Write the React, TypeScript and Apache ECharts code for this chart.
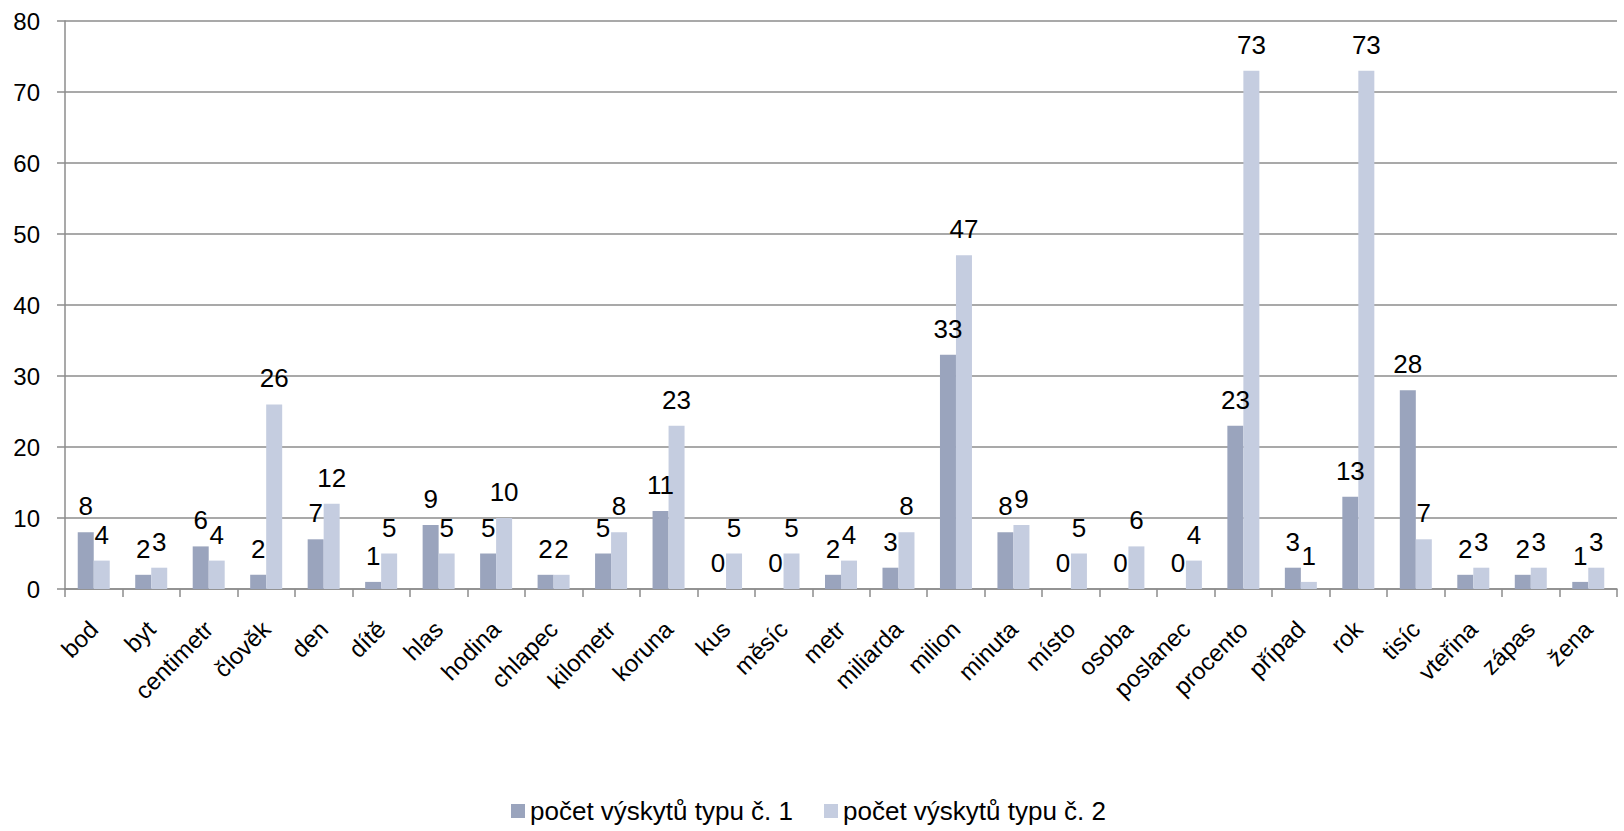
import React, { useEffect, useRef } from "react";
import * as echarts from "echarts";

const categories = [
  "bod", "byt", "centimetr", "člověk", "den", "dítě", "hlas", "hodina", "chlapec",
  "kilometr", "koruna", "kus", "měsíc", "metr", "miliarda", "milion", "minuta",
  "místo", "osoba", "poslanec", "procento", "případ", "rok", "tisíc", "vteřina",
  "zápas", "žena",
];

const seriesNames = ["počet výskytů typu č. 1", "počet výskytů typu č. 2"];

const type1Counts = [8, 2, 6, 2, 7, 1, 9, 5, 2, 5, 11, 0, 0, 2, 3, 33, 8, 0, 0, 0, 23, 3, 13, 28, 2, 2, 1];
const type2Counts = [4, 3, 4, 26, 12, 5, 5, 10, 2, 8, 23, 5, 5, 4, 8, 47, 9, 5, 6, 4, 73, 1, 73, 7, 3, 3, 3];

const yMin = 0;
const yMax = 80;
const yInterval = 10;

const FONT = "'Liberation Sans', Arial, sans-serif";
const GRID_COLOR = "#8c8c8c";
const COLOR1 = "#9aa4bd";
const COLOR2 = "#c5cde0";

export default function App() {
  const ref = useRef<HTMLDivElement | null>(null);

  useEffect(() => {
    if (!ref.current) return;
    const chart = echarts.init(ref.current, null, { renderer: "svg" });
    const labelCfg = {
      show: true,
      position: "top" as const,
      distance: 13,
      fontSize: 26,
      color: "#000",
      fontFamily: FONT,
    };
    chart.setOption({
      animation: false,
      backgroundColor: "#ffffff",
      textStyle: { fontFamily: FONT },
      grid: { left: 65, right: 7, top: 21, bottom: 242, containLabel: false },
      legend: {
        data: seriesNames,
        left: 506,
        top: 793,
        itemWidth: 14,
        itemHeight: 14,
        itemGap: 31,
        icon: "rect",
        textStyle: { fontSize: 26, color: "#000", fontFamily: FONT },
      },
      xAxis: {
        type: "category",
        data: categories,
        boundaryGap: true,
        axisLine: { show: true, lineStyle: { color: GRID_COLOR, width: 1.5 } },
        axisTick: { show: true, length: 8, interval: 0, lineStyle: { color: GRID_COLOR, width: 1.5 } },
        axisLabel: {
          interval: 0,
          rotate: 45,
          margin: 36,
          fontSize: 24,
          color: "#000",
          fontFamily: FONT,
        },
      },
      yAxis: {
        type: "value",
        min: yMin,
        max: yMax,
        interval: yInterval,
        axisLine: { show: true, lineStyle: { color: GRID_COLOR, width: 1.5 } },
        axisTick: { show: true, length: 8, lineStyle: { color: GRID_COLOR, width: 1.5 } },
        splitLine: { show: true, lineStyle: { color: GRID_COLOR, width: 1.5 } },
        axisLabel: { fontSize: 24, margin: 25, color: "#000", fontFamily: FONT },
      },
      series: [
        {
          name: seriesNames[0],
          type: "bar",
          data: type1Counts,
          barWidth: 16,
          barGap: "0%",
          itemStyle: { color: COLOR1 },
          label: labelCfg,
        },
        {
          name: seriesNames[1],
          type: "bar",
          data: type2Counts,
          barWidth: 16,
          barGap: "0%",
          itemStyle: { color: COLOR2 },
          label: labelCfg,
        },
      ],
    });
    return () => chart.dispose();
  }, []);

  return (
    <div
      ref={ref}
      style={{ position: "absolute", left: 0, top: 0, width: 1624, height: 831, background: "#fff" }}
    />
  );
}
